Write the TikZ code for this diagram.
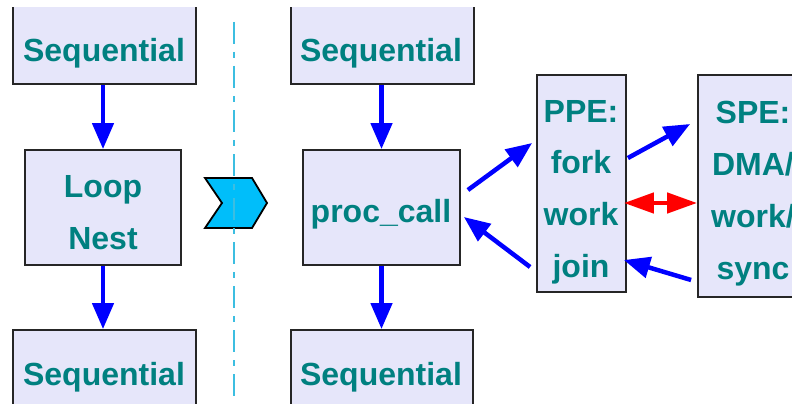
\documentclass[tikz,border=0pt]{standalone}
\usepackage{fontspec}
\setmainfont{Liberation Sans}
\usetikzlibrary{arrows.meta,calc}
\definecolor{boxfill}{RGB}{230,230,250}
\definecolor{tealtext}{RGB}{0,128,128}
\definecolor{arrowblue}{RGB}{0,0,255}
\definecolor{arrowred}{RGB}{255,0,0}
\definecolor{chevfill}{RGB}{0,190,250}
\definecolor{sepline}{RGB}{60,190,225}
\begin{document}
\begin{tikzpicture}[x=1pt,y=-1pt,
  box/.style={draw=black!85,line width=1.8pt,fill=boxfill,rectangle,inner sep=0pt},
  txt/.style={text=tealtext,anchor=base,inner sep=0pt,font=\fontsize{32}{40}\selectfont\bfseries},
  flow/.style={draw=arrowblue,line width=4.5pt,-{Triangle[width=21pt,length=26pt]}},
  duplex/.style={draw=arrowred,line width=4.5pt,{Triangle[width=20pt,length=30pt]}-{Triangle[width=20pt,length=30pt]}}]
\useasboundingbox (0,0) rectangle (792,404);
\fill[white] (0,0) rectangle (792,404);
\begin{scope}
\clip (0,8) rectangle (792,404);
% boxes
\node[box,minimum width=183pt,minimum height=124pt] (seqA) at (104.5,22) {};
\node[box,minimum width=156pt,minimum height=115pt] (loop) at (103,207.5) {};
\node[box,minimum width=183pt,minimum height=120pt] (seqB) at (104.5,390) {};
\node[box,minimum width=183pt,minimum height=124pt] (seqC) at (382.5,22) {};
\node[box,minimum width=157pt,minimum height=115pt] (proc) at (381.5,207.5) {};
\node[box,minimum width=182pt,minimum height=120pt] (seqD) at (382,390) {};
\node[box,minimum width=89pt,minimum height=217pt] (ppe) at (581.5,183.5) {};
\node[box,minimum width=110pt,minimum height=222pt] (spe) at (753,186) {};
% texts
\node[txt] (tA) at (104,62) {Sequential};
\node[txt] (tL1) at (103,197) {Loop};
\node[txt] (tL2) at (103,249) {Nest};
\node[txt] (tB) at (104,385) {Sequential};
\node[txt] (tC) at (381,62) {Sequential};
\node[txt] (tP) at (381,222) {proc\_call};
\node[txt] (tD) at (381,385) {Sequential};
\node[txt] (tp1) at (581,122) {PPE:};
\node[txt] (tp2) at (581,173) {fork};
\node[txt] (tp3) at (581,225) {work};
\node[txt] (tp4) at (581,277) {join};
\node[txt] (ts1) at (753,123) {SPE:};
\node[txt] (ts2) at (753,175) {DMA/};
\node[txt] (ts3) at (753,227) {work/};
\node[txt] (ts4) at (753,279) {sync};
% chevron
\draw[line width=1.8pt,fill=chevfill,line join=miter]
  (205,178) -- (252,178) -- (267,203) -- (252,228) -- (205,228) -- (222,203) -- cycle;
% separator
\draw[sepline,line width=2pt,dash pattern=on 22pt off 8pt on 6pt off 8pt] (234,22) -- (234,400);
% connectors
\draw[flow] (seqA.south -| loop.north) -- (loop.north);
\draw[flow] (loop.south) -- (loop.south |- seqB.north);
\draw[flow] (seqC.south -| proc.north) -- (proc.north);
\draw[flow] (proc.south) -- (proc.south |- seqD.north);
\draw[flow] ($(proc.east)+(7,-17.5)$) -- ($(ppe.west)+(-4,-40.5)$);
\draw[flow] ($(ppe.west)+(-6,83.5)$) -- ($(proc.east)+(3,9.5)$);
\draw[flow] ($(ppe.east)+(1,-25.5)$) -- ($(spe.west)+(-7,-62)$);
\draw[duplex] ($(ppe.east)+(-3,19.5)$) -- ($(spe.west)+(0,17)$);
\draw[flow] ($(spe.west)+(-6,94)$) -- ($(ppe.east)+(-3,76.5)$);
\end{scope}
\end{tikzpicture}
\end{document}
